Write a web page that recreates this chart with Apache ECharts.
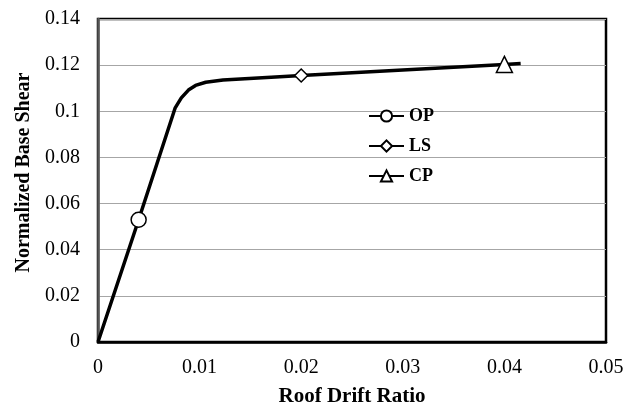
<!DOCTYPE html>
<html>
<head>
<meta charset="utf-8">
<script src="https://cdn.jsdelivr.net/npm/echarts@6/dist/echarts.min.js"></script>
<style>html,body{margin:0;padding:0;background:#fff}#c{width:625px;height:410px}</style>
</head>
<body>
<div id="c"></div>
<script>
// Pushover curve points [roof drift ratio, normalized base shear]
var curveDrift = [0, 0.004, 0.0076, 0.0082, 0.0089, 0.0096, 0.0106, 0.0123, 0.0179, 0.02, 0.04, 0.0416];
var curveShear = [0, 0.053, 0.1015, 0.1058, 0.1092, 0.1112, 0.1126, 0.1136, 0.115, 0.1155, 0.1203, 0.1207];
var perfNames = ['OP', 'LS', 'CP'];
var perfDrift = [0.004, 0.02, 0.04];
var perfShear = [0.053, 0.1155, 0.1203];
var perfSymbols = ['circle', 'diamond', 'triangle'];
var perfSizes = [15, 13, 16];
var yTicks = [0, 0.02, 0.04, 0.06, 0.08, 0.1, 0.12, 0.14];
var xTicks = [0, 0.01, 0.02, 0.03, 0.04, 0.05];

var FONT = "'Liberation Serif','Times New Roman',serif";
var chart = echarts.init(document.getElementById('c'), null, {renderer: 'canvas'});

var curve = curveDrift.map(function (d, i) { return [d, curveShear[i]]; });
var series = [{
  name: 'curve', type: 'line', data: curve, showSymbol: false, symbol: 'none',
  lineStyle: {color: '#000', width: 3.5}, z: 2, silent: true
}];
perfNames.forEach(function (n, i) {
  series.push({
    name: n, type: 'line', data: [[perfDrift[i], perfShear[i]]],
    symbol: perfSymbols[i], symbolSize: perfSizes[i], showSymbol: true,
    itemStyle: {color: '#fff', borderColor: '#000', borderWidth: 1.5},
    lineStyle: {color: '#000', width: 3}, z: 5
  });
});

chart.setOption({
  animation: false,
  backgroundColor: '#fff',
  grid: {left: 98, right: 19, top: 19, bottom: 68, containLabel: false, outerBoundsMode: 'none',
    show: true, borderColor: '#000', borderWidth: 2.5, backgroundColor: 'transparent'},
  legend: {
    data: perfNames, orient: 'vertical', left: 363, top: 102,
    itemWidth: 35, itemHeight: 14, itemGap: 12,
    textStyle: {fontFamily: FONT, fontWeight: 'bold', fontSize: 18, color: '#000'}
  },
  xAxis: {
    type: 'value', min: 0, max: 0.05, interval: 0.01,
    name: 'Roof Drift Ratio', nameLocation: 'middle', nameGap: 44,
    nameTextStyle: {fontFamily: FONT, fontWeight: 'bold', fontSize: 21, color: '#000'},
    axisLine: {show: true, lineStyle: {color: '#000', width: 2.5}},
    axisTick: {show: false},
    splitLine: {show: false},
    axisLabel: {fontFamily: FONT, fontSize: 20, color: '#000', margin: 16,
      formatter: function (v) { var t = xTicks.filter(function (x) { return Math.abs(x - v) < 1e-9; }); return t.length ? String(t[0]) : ''; }}
  },
  yAxis: {
    type: 'value', min: 0, max: 0.14, interval: 0.02,
    name: 'Normalized Base Shear', nameLocation: 'middle', nameGap: 60,
    nameTextStyle: {fontFamily: FONT, fontWeight: 'bold', fontSize: 20, color: '#000', padding: [0, 0, 0, 16]},
    axisLine: {show: true, lineStyle: {color: '#555', width: 2.5}},
    axisTick: {show: false},
    splitLine: {show: true, lineStyle: {color: '#a6a6a6', width: 1.2}},
    axisLabel: {fontFamily: FONT, fontSize: 20, color: '#000', margin: 18,
      formatter: function (v) { var t = yTicks.filter(function (x) { return Math.abs(x - v) < 1e-9; }); return t.length ? String(t[0]) : ''; }}
  },
  series: series
});
</script>
</body>
</html>
